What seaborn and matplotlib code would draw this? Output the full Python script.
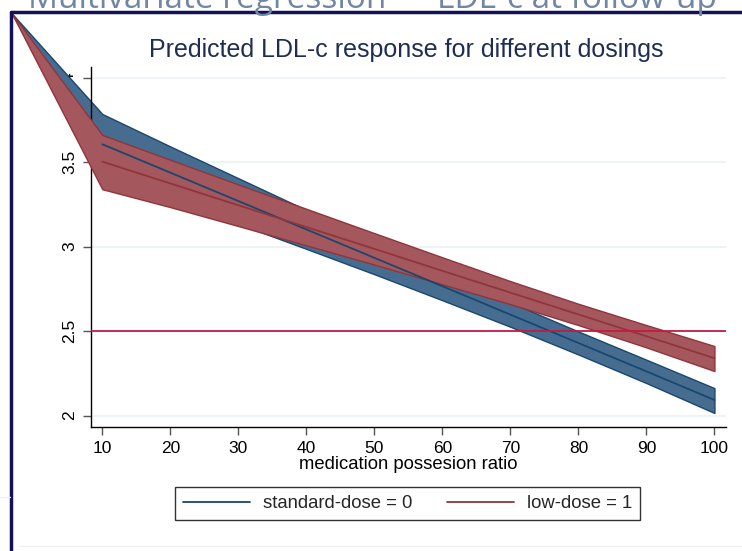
import numpy as np
import pandas as pd
import matplotlib
matplotlib.use("Agg")
import matplotlib.pyplot as plt
import seaborn as sns
from matplotlib.lines import Line2D

# ---- data ----
mpr = [10, 20, 30, 40, 50, 60, 70, 80, 90, 100]
std_mean = [3.606, 3.438, 3.270, 3.102, 2.934, 2.766, 2.598, 2.430, 2.262, 2.093]
std_upper = [3.785, 3.593, 3.405, 3.217, 3.031, 2.849, 2.670, 2.498, 2.331, 2.163]
std_lower = [3.428, 3.283, 3.135, 2.987, 2.837, 2.683, 2.526, 2.362, 2.193, 2.016]
low_mean = [3.503, 3.374, 3.245, 3.116, 2.987, 2.857, 2.728, 2.599, 2.470, 2.340]
low_upper = [3.661, 3.514, 3.368, 3.224, 3.080, 2.937, 2.796, 2.662, 2.536, 2.412]
low_lower = [3.340, 3.234, 3.122, 3.008, 2.894, 2.777, 2.660, 2.536, 2.404, 2.264]
# stray polygon vertex (rendering artefact in the source, top-left corner)
apex_x = -3.3
apex_y = 4.38
ref_level = 2.5
yticks = [2, 2.5, 3, 3.5, 4]
ytick_labels = ["2", "2.5", "3", "3.5", "4"]
xticks = [10, 20, 30, 40, 50, 60, 70, 80, 90, 100]
legend_labels = ["standard-dose = 0", "low-dose = 1"]

NAVY = "#1a476f"
NAVY_FILL = "#466d90"
MAROON = "#90353b"
MAROON_FILL = "#a4585d"
REF = "#c41a43"
GRID = "#eaf2f3"

sns.set_theme(style="white")
plt.rcParams["font.family"] = ["Liberation Sans", "DejaVu Sans"]

fig = plt.figure(figsize=(7.42, 5.51), dpi=100)
ax = fig.add_axes([91 / 742, 1 - 427 / 551, (726 - 91) / 742, (427 - 67) / 551])

df = pd.DataFrame({
    "mpr": mpr * 2,
    "ldl": std_mean + low_mean,
    "group": [legend_labels[0]] * len(mpr) + [legend_labels[1]] * len(mpr),
})

bx = [apex_x] + mpr
ax.fill_between(bx, [apex_y] + std_lower, [apex_y] + std_upper, facecolor=NAVY_FILL,
                edgecolor=NAVY, linewidth=1.0, clip_on=False, zorder=2)
ax.fill_between(bx, [apex_y] + low_lower, [apex_y] + low_upper, facecolor=MAROON_FILL,
                edgecolor=MAROON, linewidth=1.0, clip_on=False, zorder=3)
sns.lineplot(data=df, x="mpr", y="ldl", hue="group", palette=[NAVY, MAROON],
             linewidth=1.3, ax=ax, legend=False, zorder=4)
ax.axhline(ref_level, color=REF, linewidth=1.3, zorder=5)

ax.set_xlim(8.34, 101.7)
ax.set_ylim(1.933, 4.063)
ax.set_yticks(yticks)
ax.set_yticklabels(ytick_labels, rotation=90, va="center")
ax.set_xticks(xticks)
for y in yticks:
    ax.axhline(y, color=GRID, linewidth=1.2, zorder=1)
ax.tick_params(axis="both", which="both", direction="out", length=6, width=1,
               color="#555555", labelsize=12.5, labelcolor="black", pad=4,
               left=True, bottom=True)
for s in ["top", "right"]:
    ax.spines[s].set_visible(False)
for s in ["left", "bottom"]:
    ax.spines[s].set_color("black")
    ax.spines[s].set_linewidth(1.0)
ax.set_xlabel("medication possesion ratio", fontsize=13.3, labelpad=0, color="black")
ax.set_ylabel("")
ax.set_facecolor("white")

fig.text(406 / 742, 1 - 50 / 551, "Predicted LDL-c response for different dosings",
         ha="center", va="center", fontsize=18, color="#1e2d53")

handles = [Line2D([], [], color=NAVY, lw=1.3), Line2D([], [], color=MAROON, lw=1.3)]
leg = fig.legend(handles, legend_labels, loc="center", bbox_to_anchor=(407.5 / 742, 1 - 503.5 / 551),
                 ncol=2, fontsize=13.3, frameon=True, fancybox=False, edgecolor="black",
                 handlelength=3.6, handletextpad=0.7, columnspacing=1.9, borderpad=0.45)
leg.get_frame().set_linewidth(1.0)

# slide decoration: cut-off slide title and navy frame
fig.text(28 / 742, 1 - 8 / 551, "Multivariate regression — LDL-c at follow-up",
         ha="left", va="baseline", fontsize=24, color="#7186a3", family=["Open Sans", "DejaVu Sans"])
fig.add_artist(Line2D([11 / 742, 11 / 742], [0, 1 - 12 / 551], color="#12125a", lw=2.5))
fig.add_artist(Line2D([11 / 742, 1], [1 - 12 / 551, 1 - 12 / 551], color="#12125a", lw=2.5))
fig.add_artist(Line2D([20 / 742, 1], [1 - 546 / 551, 1 - 546 / 551], color="#f0f0f0", lw=1))
fig.add_artist(Line2D([0, 10 / 742], [1 - 497 / 551, 1 - 497 / 551], color="#f0f0f0", lw=1))

fig.savefig("out.png", dpi=100)
